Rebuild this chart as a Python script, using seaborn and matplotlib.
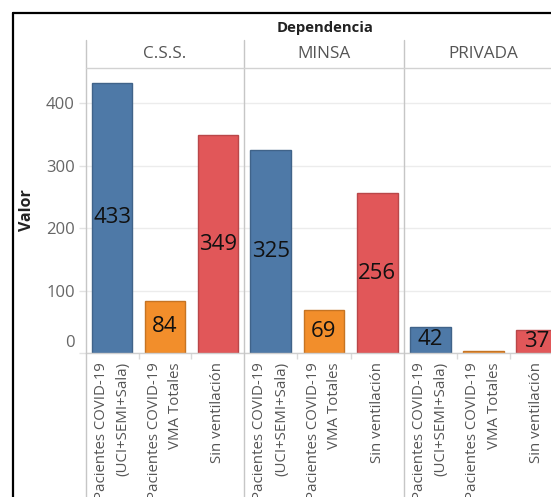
import matplotlib
matplotlib.use("Agg")
import matplotlib.pyplot as plt
import matplotlib.transforms as mtransforms
from matplotlib.lines import Line2D
import seaborn as sns
import pandas as pd
import numpy as np

# ---- data ----
dependencias = ["C.S.S.", "MINSA", "PRIVADA"]
medidas = ["Pacientes COVID-19\n(UCI+SEMI+Sala)",
           "Pacientes COVID-19\nVMA Totales",
           "Sin ventilación"]
valores_css = [433, 84, 349]
valores_minsa = [325, 69, 256]
valores_privada = [42, 4, 37]
y_ticks = [0, 100, 200, 300, 400]
colores = ["#4e79a7", "#f28e2b", "#e15759"]

valores = {"C.S.S.": valores_css, "MINSA": valores_minsa, "PRIVADA": valores_privada}
rows = []
for d in dependencias:
    for m, v in zip(medidas, valores[d]):
        rows.append({"Dependencia": d, "Medida": m, "Valor": v})
df = pd.DataFrame(rows)

sns.set_theme(style="white")
plt.rcParams['font.family'] = ['Open Sans', 'DejaVu Sans']

W, H = 551, 497
fig = plt.figure(figsize=(W / 100, H / 100), dpi=100)


def fx(px):
    return px / W


def fy(py):
    return 1 - py / H


panel_x = [86, 244, 404, 563]
top, base = 68, 353
ymax = (base - top) / 0.6245

grid_c = "#ececec"
sep_c = "#c6c6c6"

for i, d in enumerate(dependencias):
    x0, x1 = panel_x[i], panel_x[i + 1]
    ax = fig.add_axes([fx(x0), fy(base), (x1 - x0) / W, (base - top) / H])
    sub = df[df["Dependencia"] == d]
    sns.barplot(data=sub, x="Medida", y="Valor", hue="Medida", order=medidas,
                hue_order=medidas, palette=colores, width=0.76, dodge=False,
                legend=False, saturation=1, ax=ax, errorbar=None)
    for p in ax.patches:
        fc = np.array(p.get_facecolor()[:3])
        p.set_edgecolor(tuple(fc * 0.82))
        p.set_linewidth(1.0)
    for cont in ax.containers:
        labs = []
        for bar in cont:
            h = bar.get_height()
            labs.append(f"{int(round(h))}" if h >= 15 else "")
        ax.bar_label(cont, labels=labs, label_type="center", fontsize=16,
                     color="#111111")
    ax.set_xlim(-0.5, 2.5)
    ax.set_ylim(0, ymax)
    ax.set_yticks(y_ticks)
    ax.yaxis.grid(True, color=grid_c, lw=1)
    ax.set_axisbelow(True)
    for s in ["top", "right", "left"]:
        ax.spines[s].set_visible(False)
    ax.spines["bottom"].set_color("#cfcfcf")
    ax.spines["bottom"].set_linewidth(1)
    ax.set_xlabel("")
    ax.set_ylabel("")
    ax.set_xticks(range(len(medidas)))
    ax.set_xticklabels(medidas, rotation=90, ha="center", va="top",
                       multialignment="right", linespacing=1.6,
                       color="#555555", fontsize=10.8)
    for lbl in ax.get_xticklabels():
        lbl.set_transform(lbl.get_transform() +
                          mtransforms.ScaledTranslation(0.03, 0, fig.dpi_scale_trans))
    ax.tick_params(axis="x", which="major", length=0, pad=6.5)
    ax.set_xticks([0.5, 1.5], minor=True)
    ax.tick_params(axis="x", which="minor", length=4, width=1, color="#dadada",
                   bottom=True)
    if i == 0:
        ax.tick_params(axis="y", length=5, width=1, color="#e2e2e2",
                       labelcolor="#666666", labelsize=12, pad=3, left=True)
        lbl0 = ax.get_yticklabels()[0]
        lbl0.set_transform(lbl0.get_transform() +
                           mtransforms.ScaledTranslation(0, 0.12, fig.dpi_scale_trans))
    else:
        ax.tick_params(axis="y", left=False, labelleft=False)

# separators and frame
for xp in panel_x[:3]:
    fig.add_artist(Line2D([fx(xp), fx(xp)], [fy(40), fy(497)], color=sep_c, lw=1))
fig.add_artist(Line2D([fx(86), 1], [fy(68), fy(68)], color="#d2d2d2", lw=1))
fig.add_artist(Line2D([fx(13), 1], [fy(13), fy(13)], color="black", lw=1.6))
fig.add_artist(Line2D([fx(13), fx(13)], [fy(13), 0], color="black", lw=1.6))

# titles
fig.text(fx(325), fy(28), "Dependencia", ha="center", va="center",
         fontsize=10.7, fontweight="bold", color="#222222")
for i, d in enumerate(dependencias):
    cx = (panel_x[i] + panel_x[i + 1]) / 2
    fig.text(fx(cx), fy(54), d, ha="center", va="center", fontsize=12.3,
             color="#555555")
fig.text(fx(27), fy(210), "Valor", ha="center", va="center", rotation=90,
         fontsize=11.5, fontweight="bold", color="#222222")

fig.savefig("out.png", dpi=100)
